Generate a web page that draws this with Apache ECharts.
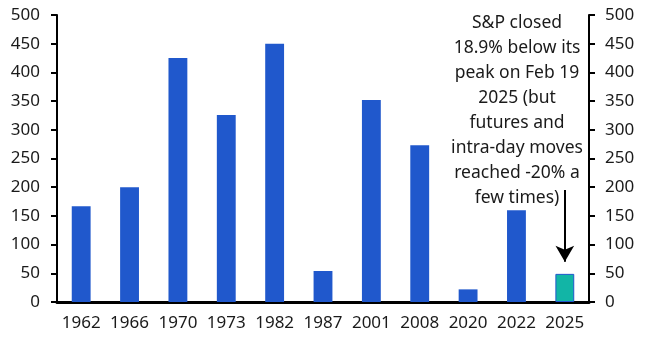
<!DOCTYPE html>
<html><head><meta charset="utf-8">
<script src="https://cdn.jsdelivr.net/npm/echarts@6/dist/echarts.min.js"></script>
<style>html,body{margin:0;padding:0;background:#fff}#c{width:651px;height:357px}</style>
</head><body><div id="c"></div>
<script>
const categories = ['1962','1966','1970','1973','1982','1987','2001','2008','2020','2022','2025'];
const values = [167, 200, 425, 326, 450, 54, 352, 273, 22, 160, 49];
const yTicks = {min: 0, max: 500, interval: 50};
const annotationLines = ['S&P closed','18.9% below its','peak on Feb 19','2025 (but','futures and','intra-day moves','reached -20% a','few times)'];
const arrowFrom = 195, arrowTo = 70;

const FONT = 'Noto Sans';
const chart = echarts.init(document.getElementById('c'), null, {renderer: 'canvas'});
const axisCommon = {
  type: 'value', min: yTicks.min, max: yTicks.max, interval: yTicks.interval,
  axisLine: {show: true, lineStyle: {color: '#000', width: 2}},
  axisTick: {show: true, inside: false, length: 6, lineStyle: {color: '#000', width: 2}},
  splitLine: {show: false},
  axisLabel: {color: '#1a1a1a', fontSize: 17, fontFamily: FONT, margin: 17}
};
chart.setOption({
  animation: false,
  grid: {left: 57, right: 62, top: 15, bottom: 55},
  xAxis: {
    type: 'category', data: categories,
    axisLine: {lineStyle: {color: '#000', width: 3}},
    axisTick: {show: false},
    axisLabel: {color: '#1a1a1a', fontSize: 17, fontFamily: FONT, margin: 13, interval: 0}
  },
  yAxis: [
    Object.assign({}, axisCommon, {position: 'left'}),
    Object.assign({}, axisCommon, {position: 'right', axisLabel: Object.assign({}, axisCommon.axisLabel, {margin: 16})})
  ],
  series: [{
    type: 'bar', barWidth: '39%',
    data: values.map((v, i) => i === values.length - 1
      ? {value: v, itemStyle: {color: '#12B5A6', borderColor: '#2058CC', borderWidth: 1}}
      : {value: v, itemStyle: {color: '#2058CC'}}),
    markLine: {
      silent: true, symbol: ['none', 'arrow'], symbolSize: [14, 16],
      lineStyle: {color: '#000', width: 2, type: 'solid'},
      label: {show: false},
      data: [[{coord: [categories[categories.length - 1], arrowFrom]}, {coord: [categories[categories.length - 1], arrowTo]}]]
    }
  }],
  graphic: annotationLines.map((t, i) => ({
    type: 'text', x: 517, y: 23 + i * 25,
    style: {text: t, fill: '#1a1a1a', font: '17.5px "' + FONT + '"', textAlign: 'center', textVerticalAlign: 'middle'}
  }))
});
</script></body></html>
